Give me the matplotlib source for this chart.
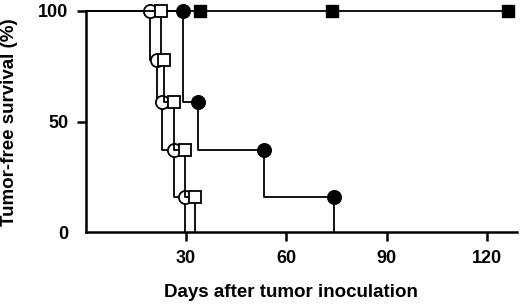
import matplotlib
matplotlib.use('Agg')
import matplotlib.pyplot as plt

# Data (days of tumor appearance, survival levels in %)
open_circle_days = [19.2, 21.2, 22.8, 26.3, 29.6]
open_circle_surv = [100, 78, 59, 37, 16, 0]
open_square_days = [22.4, 23.3, 26.3, 29.6, 32.6]
open_square_surv = [100, 78, 59, 37, 16, 0]
filled_circle_days = [29.0, 33.5, 53.4, 74.3]
filled_circle_surv = [100, 59, 37, 16, 0]
filled_square_censor = [34.3, 73.6, 126.2]
filled_square_end = 128
filled_square_surv = 100

x_ticks = [30, 60, 90, 120]
y_ticks = [0, 50, 100]
x_label = "Days after tumor inoculation"
y_label = "Tumor-free survival (%)"

plt.rcParams['font.family'] = ['Liberation Sans', 'DejaVu Sans']
plt.rcParams['font.weight'] = 'bold'

fig = plt.figure(figsize=(5.2, 3.05), dpi=100)
ax = fig.add_axes([0.165, 0.238, 0.829, 0.726])

lw = 1.3
ms_c = 9.5
ms_s = 8.6


def km(days, surv, marker, fc, ms, z):
    xs = [0] + list(days)
    ax.step(xs, surv, where='post', color='black', lw=lw, zorder=z,
            clip_on=False)
    ax.plot(days, surv[:-1], linestyle='none', marker=marker, ms=ms,
            mfc=fc, mec='black', mew=lw, zorder=z + 0.5, clip_on=False)


km(filled_circle_days, filled_circle_surv, 'o', 'black', ms_c, 2)
km(open_circle_days, open_circle_surv, 'o', 'white', ms_c, 3)
km(open_square_days, open_square_surv, 's', 'white', ms_s, 4)

ax.plot([0, filled_square_end], [filled_square_surv] * 2, color='black',
        lw=lw, zorder=1, clip_on=False)
ax.plot(filled_square_censor, [filled_square_surv] * len(filled_square_censor),
        linestyle='none', marker='s', ms=ms_s, mfc='black', mec='black',
        zorder=5, clip_on=False)

ax.set_xlim(0, 129)
ax.set_ylim(0, 100)
ax.spines['top'].set_visible(False)
ax.spines['right'].set_visible(False)
for s in ('left', 'bottom'):
    ax.spines[s].set_linewidth(1.8)
ax.set_xticks(x_ticks)
ax.set_yticks(y_ticks)
ax.tick_params(axis='both', direction='out', length=6.5, width=1.8,
               labelsize=13, pad=6)
ax.yaxis.get_major_ticks()[0].tick1line.set_visible(False)
for lab in ax.get_xticklabels() + ax.get_yticklabels():
    lab.set_fontweight('bold')

ax.set_xlabel(x_label, fontsize=13.5, fontweight='bold')
ax.set_ylabel(y_label, fontsize=13.5, fontweight='bold')
ax.xaxis.set_label_coords(0.475, -0.235)
ax.yaxis.set_label_coords(-0.158, 0.5)

fig.savefig('out.png', dpi=100)
